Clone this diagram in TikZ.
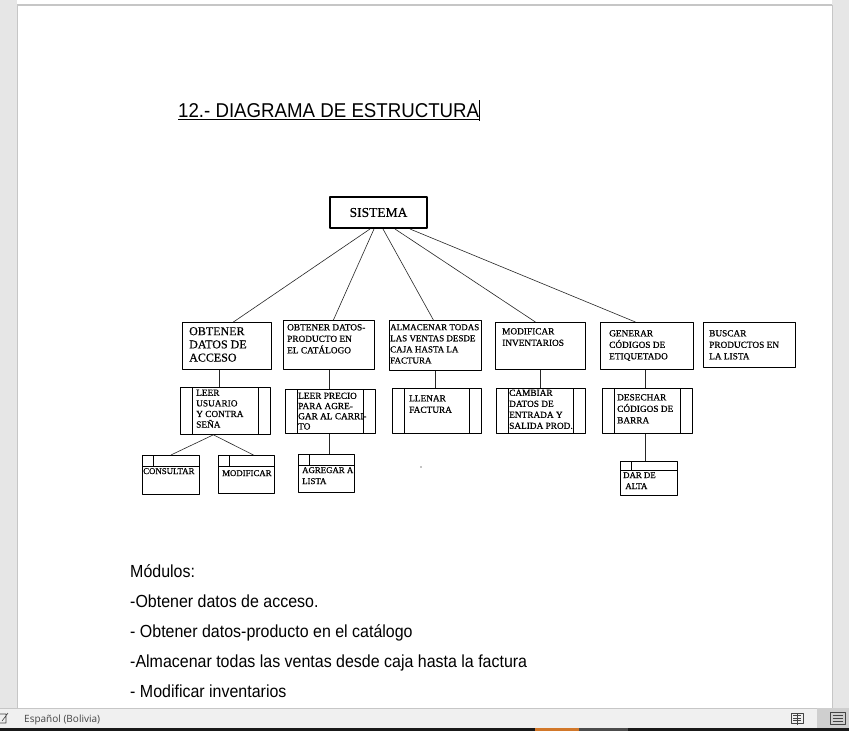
\documentclass[tikz,border=0pt]{standalone}
\usepackage{fontspec}
\setmainfont{Liberation Serif}[FakeBold=0.6]
\newfontfamily\wordfont[FakeStretch=0.913]{Liberation Sans}
\newfontfamily\titlefont[FakeStretch=0.934]{Liberation Sans}
\newfontfamily\uifont{Open Sans}
\usetikzlibrary{positioning}
\definecolor{deskgray}{HTML}{E6E6E6}
\definecolor{edgegray}{HTML}{C6C6C6}
\definecolor{barfill}{HTML}{F0F0F0}
\definecolor{bartxt}{HTML}{444444}
\definecolor{accent}{HTML}{D2782A}
\tikzset{
  modbox/.style={draw, line width=.8pt, inner sep=0pt, anchor=north west},
  procbox/.style={modbox, path picture={
      \draw[line width=.8pt] ([xshift=12pt]path picture bounding box.north west) -- ([xshift=12pt]path picture bounding box.south west)
      ([xshift=-12pt]path picture bounding box.north east) -- ([xshift=-12pt]path picture bounding box.south east);}},
  libbox/.style={modbox, path picture={
      \draw[line width=.8pt] ([yshift=-#1]path picture bounding box.north west) -- ([yshift=-#1]path picture bounding box.north east)
      ([xshift=11pt]path picture bounding box.north west) -- ++(0,-#1);}},
  libbox/.default=11pt,
  lbl/.style={anchor=north west, align=left, inner sep=0pt, font=\fontsize{9.3}{11.5}\selectfont},
  plbl/.style={lbl, font=\fontsize{9.3}{10.6}\selectfont},
  link/.style={line width=.6pt, black!85},
  bodytxt/.style={anchor=base west, inner sep=0pt, font=\wordfont\fontsize{17.5}{20}\selectfont}
}
\begin{document}
\begin{tikzpicture}[x=1pt, y=-1pt, line join=round]
  % window around the page
  \fill[deskgray] (0,0) rectangle (849,731);
  \fill[white] (17,0) rectangle (832,708);
  \draw[edgegray, line width=1.2pt] (17,5) -- (832,5);
  \draw[edgegray, line width=.6pt] (17,5) -- (17,708) (832,5) -- (832,708);
  \useasboundingbox (0,0) rectangle (849,731);

  % title
  \node[anchor=base west, inner sep=0pt, font=\titlefont\fontsize{20}{24}\selectfont] (title) at (178,117) {12.- DIAGRAMA DE ESTRUCTURA};
  \draw[line width=.8pt] (title.base west) ++(0,2.5) -- ++(301,0);
  \draw[line width=.7pt] (479,100) -- (479,121);

  % root
  \node[draw, line width=2pt, minimum width=97pt, minimum height=31pt, inner sep=0pt, font=\fontsize{13.5}{16}\selectfont] (sis) at (378.5,212.5) {SISTEMA};

  % first level
  \node[modbox, minimum width=89pt, minimum height=47pt] (a1) at (182,322) {};
  \node[modbox, minimum width=91pt, minimum height=49pt] (a2) at (283,320) {};
  \node[modbox, minimum width=92pt, minimum height=50pt] (a3) at (389,320) {};
  \node[modbox, minimum width=90pt, minimum height=47pt] (a4) at (495,322) {};
  \node[modbox, minimum width=93pt, minimum height=47pt] (a5) at (600,322) {};
  \node[modbox, minimum width=92pt, minimum height=45pt] (a6) at (703,322) {};
  \node[lbl, font=\fontsize{12}{13.2}\selectfont] (a1t) at ([shift={(7,5)}]a1.north west) {OBTENER\\DATOS DE\\ACCESO};
  \node[lbl] (a2t) at ([shift={(4,4)}]a2.north west) {OBTENER DATOS-\\PRODUCTO EN\\EL CATÁLOGO};
  \node[lbl, font=\fontsize{9}{11.1}\selectfont] (a3t) at ([shift={(1,4)}]a3.north west) {ALMACENAR TODAS\\LAS VENTAS DESDE\\CAJA HASTA LA\\FACTURA};
  \node[lbl] (a4t) at ([shift={(7,6)}]a4.north west) {MODIFICAR\\INVENTARIOS};
  \node[lbl] (a5t) at ([shift={(9,8)}]a5.north west) {GENERAR\\CÓDIGOS DE\\ETIQUETADO};
  \node[lbl] (a6t) at ([shift={(6,8)}]a6.north west) {BUSCAR\\PRODUCTOS EN\\LA LISTA};

  % second level
  \node[procbox, minimum width=90pt, minimum height=47pt] (b1) at (180,387) {};
  \node[procbox, minimum width=90pt, minimum height=44pt] (b2) at (285,389) {};
  \node[procbox, minimum width=89pt, minimum height=45pt] (b3) at (392,388) {};
  \node[procbox, minimum width=89pt, minimum height=45pt] (b4) at (496,388) {};
  \node[procbox, minimum width=90pt, minimum height=45pt] (b5) at (602,388) {};
  \node[plbl] (b1t) at ([shift={(16,2.5)}]b1.north west) {LEER\\USUARIO\\Y CONTRA\\SEÑA};
  \node[plbl, font=\fontsize{9.3}{10.2}\selectfont] (b2t) at ([shift={(13,3.5)}]b2.north west) {LEER PRECIO\\PARA AGRE-\\GAR AL CARRI-\\TO};
  \node[lbl] (b3t) at ([shift={(17,7)}]b3.north west) {LLENAR\\FACTURA};
  \node[plbl, font=\fontsize{9.3}{11}\selectfont] (b4t) at ([shift={(13,1.5)}]b4.north west) {CAMBIAR\\DATOS DE\\ENTRADA Y\\SALIDA PROD.};
  \node[lbl] (b5t) at ([shift={(15,6)}]b5.north west) {DESECHAR\\CÓDIGOS DE\\BARRA};

  % third level
  \node[libbox, minimum width=57pt, minimum height=39pt] (c1) at (142,455) {};
  \node[libbox, minimum width=56pt, minimum height=38pt] (c2) at (218,455) {};
  \node[libbox, minimum width=56pt, minimum height=38pt] (c3) at (298,454) {};
  \node[libbox=9pt, minimum width=57pt, minimum height=34pt] (c4) at (620,461) {};
  \node[lbl, font=\fontsize{8.8}{11}\selectfont] (c1t) at ([shift={(1,13)}]c1.north west) {CONSULTAR};
  \node[lbl, font=\fontsize{8.8}{11}\selectfont] (c2t) at ([shift={(4,15)}]c2.north west) {MODIFICAR};
  \node[lbl, font=\fontsize{8.8}{11}\selectfont] (c3t) at ([shift={(4,13)}]c3.north west) {AGREGAR A\\LISTA};
  \node[lbl, font=\fontsize{8.8}{11}\selectfont] (c4t) at ([shift={(3,11)}]c4.north west) {DAR DE\\\ ALTA};

  % connectors
  \draw[link] ([xshift=-8.5pt]sis.south) -- ([xshift=6.5pt]a1.north);
  \draw[link] ([xshift=-4.5pt]sis.south) -- ([xshift=4.5pt]a2.north);
  \draw[link] ([xshift=4.5pt]sis.south) -- ([xshift=-2pt]a3.north);
  \draw[link] ([xshift=16.5pt]sis.south) -- ([xshift=-5pt]a4.north);
  \draw[link] ([xshift=31.5pt]sis.south) -- ([xshift=-11.5pt]a5.north);
  \draw[link] ([xshift=-7.5pt]a1.south) -- ([xshift=-7.5pt]a1.south |- b1.north);
  \draw[link] (a2.south) -- (a2.south |- b2.north);
  \draw[link] (a3.south) -- (a3.south |- b3.north);
  \draw[link] (a4.south) -- (a4.south |- b4.north);
  \draw[link] ([xshift=-1.5pt]a5.south) -- ([xshift=-1.5pt]a5.south |- b5.north);
  \draw[link] ([xshift=-12pt]b1.south) -- (c1.north);
  \draw[link] ([xshift=-12pt]b1.south) -- ([xshift=7pt]c2.north);
  \draw[link] ([xshift=-1pt]b2.south) -- ([xshift=-1pt]b2.south |- c3.north);
  \draw[link] ([xshift=-2pt]b5.south) -- ([xshift=-2pt]b5.south |- c4.north);
  \fill (421,467) circle (.6pt);

  % text under the diagram
  \node[bodytxt] (m0) at (130,577) {Módulos:};
  \node[bodytxt] (m1) at (130,607) {-Obtener datos de acceso.};
  \node[bodytxt] (m2) at (130,637) {- Obtener datos-producto en el catálogo};
  \node[bodytxt] (m3) at (130,667) {-Almacenar todas las ventas desde caja hasta la factura};
  \node[bodytxt] (m4) at (130,697) {- Modificar inventarios};

  % status bar
  \fill[barfill] (0,708) rectangle (849,728);
  \draw[edgegray, line width=.8pt] (0,708) -- (849,708);
  \fill[edgegray!85] (817,708.4) rectangle (849,728);
  \fill[black!90] (0,728) rectangle (849,731);
  \fill[accent] (535,728) rectangle (579,731);
  \fill[black!70] (579,728) rectangle (628,731);
  \node[anchor=base west, inner sep=0pt, text=bartxt, font=\uifont\fontsize{10}{12}\selectfont] (lang) at (24,722) {Español (Bolivia)};
  \draw[bartxt, line width=.6pt] (0,714) -- (6,714) -- (6,723) -- (0,723) (2,721) -- (8,713);
  \draw[bartxt, line width=.6pt] (791,713) rectangle (803,723) (797,713) -- (797,725)
    (793,715.5) -- (801,715.5) (793,718) -- (801,718) (793,720.5) -- (801,720.5);
  \draw[bartxt, line width=.6pt] (830,712) rectangle (845,724)
    (832.5,715) -- (842.5,715) (832.5,718) -- (842.5,718) (832.5,721) -- (842.5,721);
\end{tikzpicture}
\end{document}
